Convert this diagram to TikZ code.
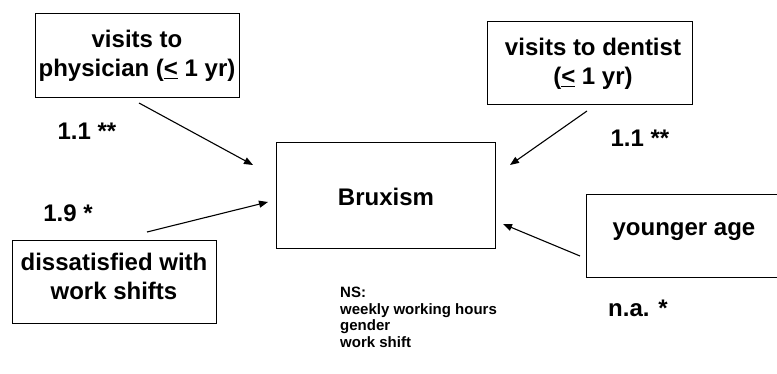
\documentclass[tikz,border=0pt]{standalone}
\usepackage{fontspec}
\setmainfont{Liberation Sans}
\usetikzlibrary{arrows.meta}
\begin{document}
\begin{tikzpicture}[x=1pt,y=-1pt,
  box/.style={draw=black,line width=0.9pt,inner sep=0pt},
  big/.style={font=\fontsize{24}{28.5}\selectfont\bfseries,align=center,inner sep=0pt},
  small/.style={font=\fontsize{15}{16.5}\selectfont\bfseries,align=left,inner sep=0pt},
  arr/.style={line width=1.1pt,-{Triangle[length=9pt,width=7pt]}}]
\useasboundingbox (0,0) rectangle (777,374);
% boxes
\node[box,minimum width=204pt,minimum height=84pt] (phys) at (137,55) {};
\node[big] (physt) at (137,56) {visits to\\physician (\underline{<} 1 yr)};
\node[box,minimum width=205pt,minimum height=83pt] (dent) at (589.5,62.5) {};
\node[big] (dentt) at (593,64) {visits to dentist\\(\underline{<} 1 yr)};
\node[box,minimum width=219pt,minimum height=106pt] (brux) at (385.5,195) {};
\node[big] (bruxt) at (386,197) {Bruxism};
\node[box,minimum width=204pt,minimum height=83pt] (diss) at (114,281.5) {};
\node[big] (disst) at (114,276.5) {dissatisfied with\\work shifts};
\node[box,minimum width=200pt,minimum height=83pt] (young) at (686,235.5) {};
\node[big] (youngt) at (684,232) {younger age};
% labels
\node[big] (l1) at (87,131) {1.1 **};
\node[big] (l2) at (640,138) {1.1 **};
\node[big] (l3) at (68,213) {1.9 *};
\node[big] (l4) at (638,308) {n.a. *};
\node[small,anchor=north west] (ns) at (340,287) {NS:\\weekly working hours\\gender\\work shift};
% arrows
\coordinate (a1s) at (139,103); \coordinate (a1e) at (253,165);
\coordinate (a2s) at (587,111); \coordinate (a2e) at (510,165);
\coordinate (a3s) at (147,232); \coordinate (a3e) at (268,202);
\coordinate (a4s) at (580,256); \coordinate (a4e) at (503,224);
\draw[arr] (a1s) -- (a1e);
\draw[arr] (a2s) -- (a2e);
\draw[arr] (a3s) -- (a3e);
\draw[arr] (a4s) -- (a4e);
\end{tikzpicture}
\end{document}
